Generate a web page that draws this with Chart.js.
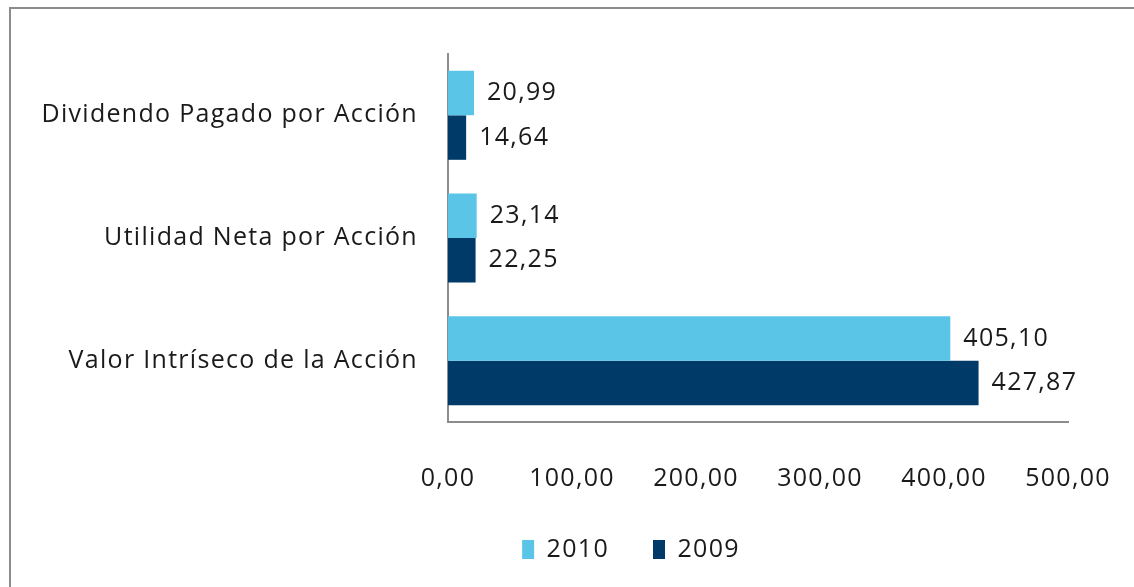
<!DOCTYPE html>
<html>
<head>
<meta charset="utf-8">
<script src="https://cdn.jsdelivr.net/npm/chart.js@4/dist/chart.umd.min.js"></script>
<style>
  html, body { margin: 0; padding: 0; background: #fff; overflow: hidden; }
  #wrap { position: relative; width: 1134px; height: 587px; overflow: hidden; }
  #frame { position: absolute; left: 9px; top: 7px; right: -4px; bottom: -4px;
           border-top: 2px solid #8c8c8c; border-left: 2px solid #8c8c8c; }
  canvas { position: absolute; left: 0; top: 0; }
</style>
</head>
<body>
<div id="wrap">
  <div id="frame"></div>
  <!-- the canvas runs past the right edge so the legend centres where the original one sits -->
  <canvas id="chart" width="1242" height="587"></canvas>
</div>
<script>
// data
const categories = ['Dividendo Pagado por Acción', 'Utilidad Neta por Acción', 'Valor Intríseco de la Acción'];
const years = ['2010', '2009'];
const values2010 = [20.99, 23.14, 405.10];
const values2009 = [14.64, 22.25, 427.87];
const xMax = 500;
const xStep = 100;

const lightBlue = '#5bc5e8';
const darkBlue = '#003a68';
const fontFamily = '"Open Sans", "Noto Sans", sans-serif';
const fontSize = 25;
const spacing = '1.3px';

const axisLeft = 448;   // where the value axis starts
const axisRight = 1068; // where 500,00 sits
const padLeft = 20;

function fmt(v) {
    return v.toFixed(2).replace('.', ',');
}

// slightly looser text, closer to the original's rendering
// (set again before layout and draw, resizing the canvas resets the context)
const looseText = {
    id: 'looseText',
    beforeLayout(chart) { chart.ctx.letterSpacing = spacing; },
    beforeDraw(chart) { chart.ctx.letterSpacing = spacing; }
};

// value labels at the end of each bar
const barLabels = {
    id: 'barLabels',
    afterDatasetsDraw(chart) {
        const ctx = chart.ctx;
        ctx.save();
        ctx.font = fontSize + 'px ' + fontFamily;
        ctx.fillStyle = '#1a1a1a';
        ctx.textAlign = 'left';
        ctx.textBaseline = 'middle';
        chart.data.datasets.forEach((ds, i) => {
            chart.getDatasetMeta(i).data.forEach((bar, j) => {
                ctx.fillText(fmt(ds.data[j]), bar.x + 13, bar.y);
            });
        });
        ctx.restore();
    }
};

const chartData = {
    labels: categories,
    datasets: [
        { label: years[0], data: values2010, backgroundColor: lightBlue },
        { label: years[1], data: values2009, backgroundColor: darkBlue }
    ]
};

new Chart(document.getElementById('chart'), {
    type: 'bar',
    data: chartData,
    options: {
        indexAxis: 'y',
        responsive: false,
        animation: false,
        devicePixelRatio: 1,
        datasets: { bar: { categoryPercentage: 0.725, barPercentage: 1 } },
        layout: { padding: { top: 54, left: padLeft, right: 0, bottom: 15 } },
        scales: {
            x: {
                min: 0,
                max: xMax,
                afterFit(scale) {
                    scale.paddingRight = scale.chart.width - axisRight;
                    scale.height = 71;
                },
                ticks: {
                    stepSize: xStep,
                    padding: 42,
                    color: '#1a1a1a',
                    font: { family: fontFamily, size: fontSize },
                    callback: v => fmt(v)
                },
                grid: { display: false, drawTicks: false },
                border: { display: true, color: '#8c8c8c', width: 2 }
            },
            y: {
                afterFit(scale) { scale.width = axisLeft - padLeft; },
                ticks: {
                    padding: 30,
                    color: '#1a1a1a',
                    font: { family: fontFamily, size: fontSize }
                },
                grid: { display: false, drawTicks: false },
                border: { display: true, color: '#8c8c8c', width: 2 }
            }
        },
        plugins: {
            legend: {
                position: 'bottom',
                labels: {
                    boxWidth: 12,
                    boxHeight: 19,
                    padding: 44,
                    color: '#1a1a1a',
                    font: { family: fontFamily, size: fontSize }
                }
            },
            tooltip: { enabled: false }
        }
    },
    plugins: [looseText, barLabels]
});
</script>
</body>
</html>
